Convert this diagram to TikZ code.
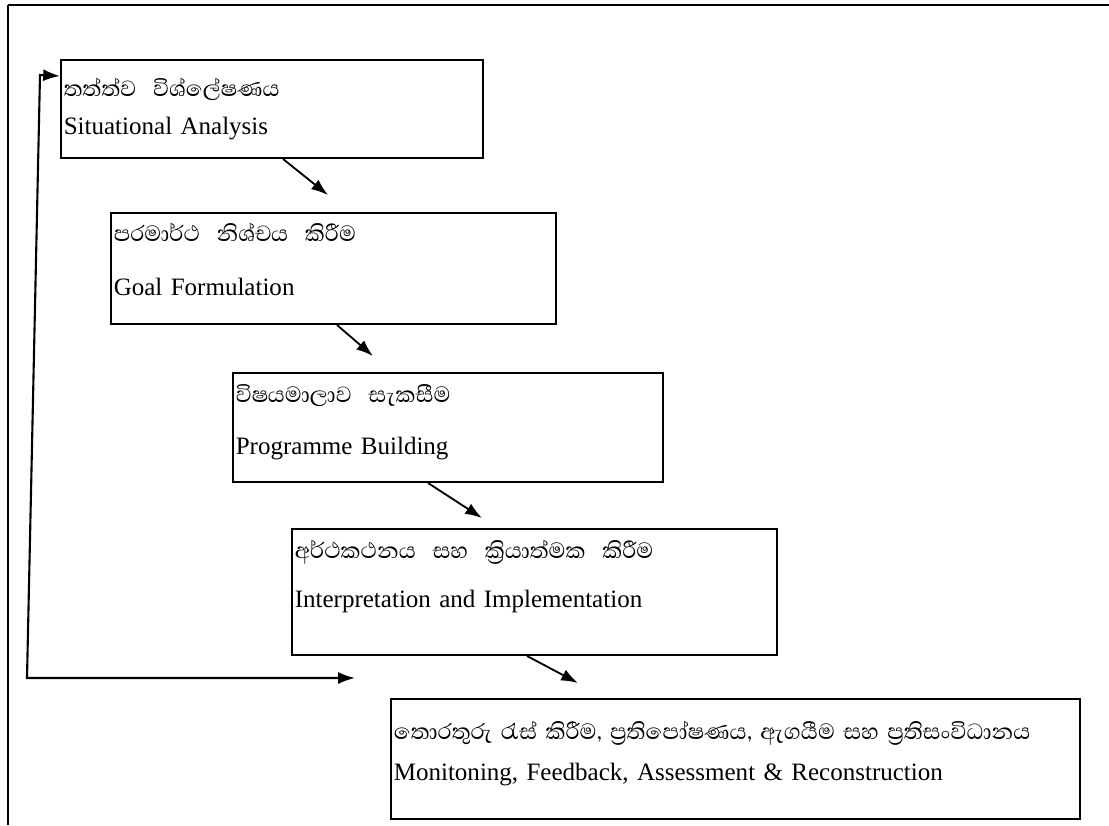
\documentclass[tikz,border=0pt]{standalone}
\usepackage{fontspec}
\setmainfont{Liberation Serif}
\newfontfamily\sinhala[Script=Sinhala]{Abhaya Libre}
\usetikzlibrary{arrows.meta, calc}
\newcommand{\sitext}[1]{{\sinhala\fontsize{20}{22}\selectfont #1}}
\newcommand{\lift}[1]{\rule[-#1]{0pt}{#1}}
\tikzset{
  every picture/.style={line width=1.4pt},
  stage/.style={draw, anchor=north west, align=left, inner xsep=2pt, inner ysep=0pt,
    text width=#1, font=\fontsize{17.8}{22}\selectfont},
  arrow/.style={-{Latex[length=4.2mm, width=3mm]}, line width=1.3pt},
  loopline/.style={{Latex[length=4.2mm, width=3mm]}-{Latex[length=4.2mm, width=3mm]}, line width=1.5pt},
}

\begin{document}
\begin{tikzpicture}
  \useasboundingbox (0,0) rectangle (27.725,-20.625);
  % outer frame of the page
  \draw[line width=2pt] (0.2,-0.125) -- (27.725,-0.125);
  \draw (0.2,-0.125) -- (0.2,-20.625);
  % the five stages
  \node[stage=10.41cm, minimum height=2.45cm] (sa) at (1.5,-1.475)
    {\sitext{තත්ත්ව\ \ විශ්ලේෂණය}\\[5pt]Situational Analysis};
  \node[stage=10.985cm, minimum height=2.775cm] (gf) at (2.75,-5.3)
    {\sitext{පරමාර්ථ\ \ නිශ්චය\ \ කිරීම}\\[17pt]Goal Formulation\lift{0.455cm}};
  \node[stage=10.61cm, minimum height=2.725cm] (pb) at (5.8,-9.3)
    {\sitext{විෂයමාලාව\ \ සැකසීම}\\[15pt]Programme Building\lift{0.375cm}};
  \node[stage=11.985cm, minimum height=3.15cm] (ii) at (7.275,-13.2)
    {\sitext{අර්ථකථනය\ \ සහ\ \ ක්‍රියාත්මක\ \ කිරීම}\\[13pt]Interpretation and Implementation\lift{0.9cm}};
  \node[stage=17.085cm, minimum height=3.0cm] (mf) at (9.75,-17.45)
    {\sitext{තොරතුරු රැස් කිරීම, ප්‍රතිපෝෂණය, ඇගයීම සහ ප්‍රතිසංවිධානය}\\[7pt]Monitoning, Feedback, Assessment \& Reconstruction\lift{0.425cm}};
  % stage to stage
  \draw[arrow] ([xshift=5.575cm]sa.south west) -- ([xshift=5.45cm, yshift=0.425cm]gf.north west);
  \draw[arrow] ([xshift=5.675cm]gf.south west) -- ([xshift=3.525cm, yshift=0.4cm]pb.north west);
  \draw[arrow] ([xshift=4.9cm]pb.south west) -- ([xshift=4.775cm, yshift=0.25cm]ii.north west);
  \draw[arrow] ([xshift=5.9cm]ii.south west) -- ([xshift=4.7cm, yshift=0.375cm]mf.north west);
  % feedback loop back to the start
  \coordinate (fb) at (8.875,-16.95);
  \draw[loopline] (fb) -- (0.675,-16.95) -- (1.0,-1.875) -- ([yshift=-0.425cm]sa.north west);
\end{tikzpicture}
\end{document}
